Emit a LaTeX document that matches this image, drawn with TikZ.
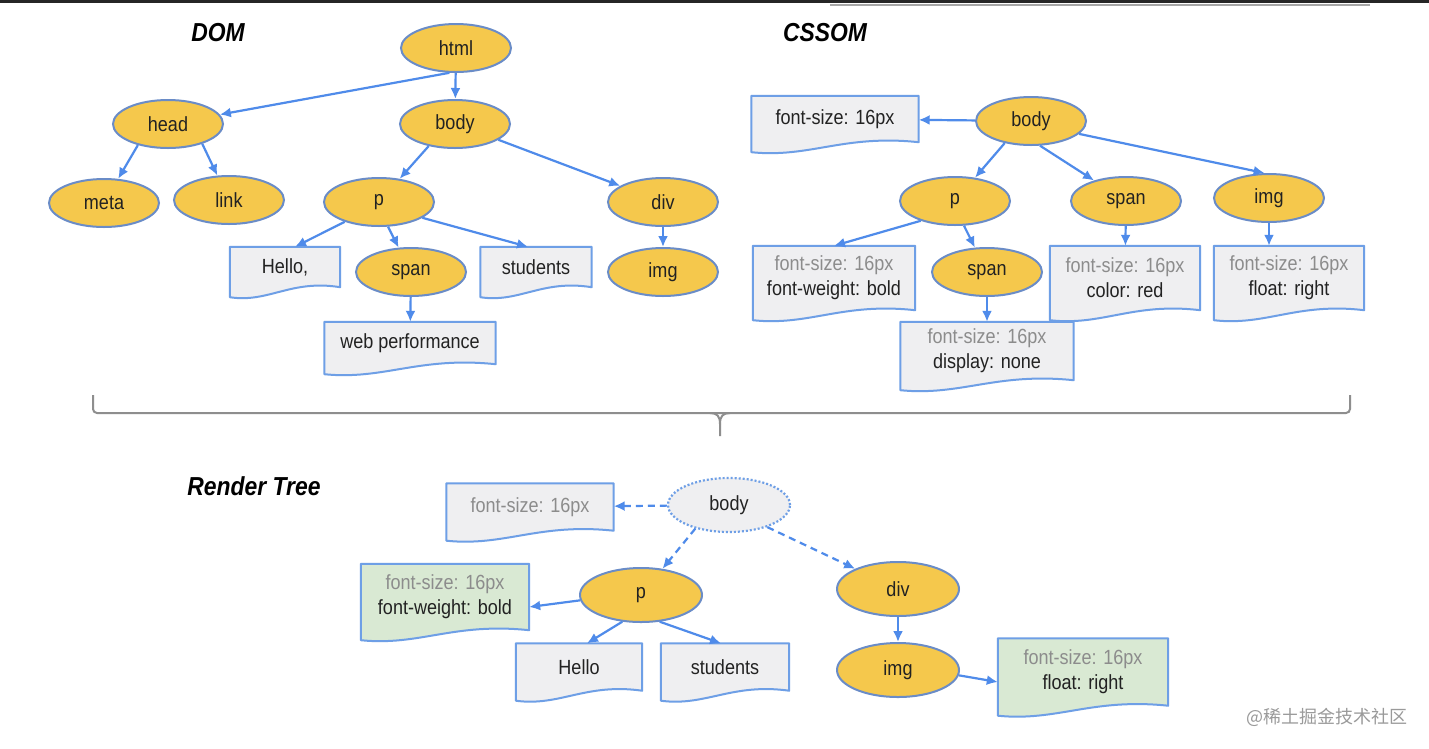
\documentclass[tikz,border=0pt]{standalone}
\usepackage{fontspec}
\setmainfont{Liberation Sans}[FakeStretch=0.88]
\newfontfamily\cjkfont{Noto Sans CJK SC}
\usetikzlibrary{shapes.geometric,arrows.meta,calc}
\pgfdeclarelayer{bottomlayer}
\pgfdeclarelayer{boxlayer}
\pgfsetlayers{bottomlayer,boxlayer,main}
\definecolor{ellfill}{HTML}{F5C84C}
\definecolor{elldraw}{HTML}{6A8CC7}
\definecolor{arrowc}{HTML}{4F8BEA}
\definecolor{boxdraw}{HTML}{6E9FE6}
\definecolor{boxfill}{HTML}{EFEFF1}
\definecolor{greenfill}{HTML}{D9E9D3}
\definecolor{txt}{HTML}{222222}
\definecolor{greytxt}{HTML}{8C8C8C}
\definecolor{bracec}{HTML}{8E8E8E}
\definecolor{wmc}{HTML}{9A9A9A}
\tikzset{
  ell/.style={ellipse, draw=elldraw, fill=ellfill, line width=2pt, minimum width=110pt, minimum height=48pt, inner sep=0pt, text=txt, font=\fontsize{20.5}{24}\selectfont},
  rell/.style={ell, minimum width=122pt, minimum height=54pt},
  dotell/.style={rell, fill=boxfill, draw=boxdraw, dotted, line width=2.2pt},
  docnode/.style={rectangle, inner sep=0pt, text=txt, align=center, font=\fontsize{20.5}{25}\selectfont},
  docline/.style={draw=boxdraw, line width=2pt, line join=round},
  arr/.style={draw=arrowc, line width=2.2pt, -{Latex[length=11pt,width=10pt]}},
  darr/.style={arr, dash pattern=on 7pt off 5pt},
  ttl/.style={font=\fontsize{26}{28}\selectfont\bfseries\itshape, text=black},
}
\newcommand\docshape[2]{%
  \path[docline, fill=#2] ($(#1.south west)+(0,10)$) -- (#1.north west) -- (#1.north east) -- (#1.south east)
   .. controls ($(#1.south west)!0.55!(#1.south east)+(0,-8)$) and ($(#1.south west)!0.35!(#1.south east)+(0,16)$) .. ($(#1.south west)+(0,10)$) -- cycle;}
\begin{document}
\begin{tikzpicture}[x=1pt,y=-1pt]
\begin{pgfonlayer}{bottomlayer}
\fill[white] (0,0) rectangle (1429,748);
\end{pgfonlayer}
\useasboundingbox (0,0) rectangle (1429,748);
% top edge
\fill[black!85] (0,0) rectangle (1429,3);
\draw[black!35, line width=1.5pt] (830,5) -- (1370,5);

% titles
\node[ttl] (domt) at (218,33) {DOM};
\node[ttl] (cssomt) at (825,33) {CSSOM};
\node[ttl] (rtt) at (254,486) {Render Tree};

% DOM
\node[ell] (html) at (456,48) {html};
\node[ell] (head) at (168,124) {head};
\node[ell] (body) at (455,124) {body};
\node[ell] (meta) at (104,203) {meta};
\node[ell] (link) at (229,200) {link};
\node[ell] (p) at (379,202) {p};
\node[ell] (div) at (663,202) {div};
\node[ell] (span) at (411,272) {span};
\node[ell] (img) at (663,272) {img};
\node[docnode, minimum width=110pt, minimum height=40pt] (hello) at (285,267) {Hello,};
\node[docnode, minimum width=111pt, minimum height=40pt] (stud) at (536,267) {students};
\node[docnode, minimum width=171pt, minimum height=42pt] (web) at (410,343) {web performance};

% CSSOM
\node[docnode, minimum width=167pt, minimum height=46pt] (cfs) at (835,119) {font-size: 16px};
\node[ell] (cbody) at (1031,121) {body};
\node[ell] (cp) at (955,201) {p};
\node[ell] (cspan) at (1126,201) {span};
\node[ell] (cimg) at (1269,198) {img};
\node[ell] (cspan2) at (987,272) {span};
\node[docnode, minimum width=162pt, minimum height=64pt] (cpbox) at (834,278) {\textcolor{greytxt}{font-size: 16px}\\font-weight: bold};
\node[docnode, minimum width=150pt, minimum height=64pt] (cspanbox) at (1125,278) {\textcolor{greytxt}{font-size: 16px}\\color: red};
\node[docnode, minimum width=150pt, minimum height=64pt] (cimgbox) at (1289,278) {\textcolor{greytxt}{font-size: 16px}\\float: right};
\node[docnode, minimum width=173pt, minimum height=58pt] (cdisp) at (987,351) {\textcolor{greytxt}{font-size: 16px}\\display: none};

% Render tree
\node[dotell] (rbody) at (729,505) {body};
\node[docnode, minimum width=167pt, minimum height=47pt] (rfs) at (530,507) {\textcolor{greytxt}{font-size: 16px}};
\node[rell] (rp) at (641,595) {p};
\node[rell] (rdiv) at (898,589) {div};
\node[rell] (rimg) at (898,670) {img};
\node[docnode, minimum width=168pt, minimum height=66pt] (g1) at (445,597) {\textcolor{greytxt}{font-size: 16px}\\font-weight: bold};
\node[docnode, minimum width=126pt, minimum height=47pt] (rhello) at (579,667) {Hello};
\node[docnode, minimum width=128pt, minimum height=47pt] (rstud) at (725,667) {students};
\node[docnode, minimum width=170pt, minimum height=67pt] (g2) at (1083,672) {\textcolor{greytxt}{font-size: 16px}\\float: right};

\node[anchor=east, text=wmc, font=\cjkfont\fontsize{18}{20}\selectfont, inner sep=0pt] (wm) at (1408,717) {@稀土掘金技术社区};

\begin{pgfonlayer}{boxlayer}
\docshape{hello}{boxfill}
\docshape{stud}{boxfill}
\docshape{web}{boxfill}
\docshape{cfs}{boxfill}
\docshape{cpbox}{boxfill}
\docshape{cspanbox}{boxfill}
\docshape{cimgbox}{boxfill}
\docshape{cdisp}{boxfill}
\docshape{rfs}{boxfill}
\docshape{g1}{greenfill}
\docshape{rhello}{boxfill}
\docshape{rstud}{boxfill}
\docshape{g2}{greenfill}
\end{pgfonlayer}

% DOM arrows
\draw[arr] (html) -- (body);
\draw[arr] (html.255) -- (head);
\draw[arr] (head.215) -- (meta);
\draw[arr] (head.330) -- (link);
\draw[arr] (body.220) -- (p);
\draw[arr] (body.340) -- (div);
\draw[arr] (p.210) -- ([xshift=10pt]hello.north);
\draw[arr] (p.290) -- (span);
\draw[arr] (p.340) -- ([xshift=-8pt]stud.north);
\draw[arr] (span) -- (web);
\draw[arr] (div) -- (img);

% CSSOM arrows
\draw[arr] (cbody) -- (cfs);
\draw[arr] (cbody.220) -- (cp);
\draw[arr] (cbody.290) -- (cspan);
\draw[arr] (cbody.345) -- (cimg.100);
\draw[arr] (cp.210) -- (cpbox.north);
\draw[arr] (cp.290) -- (cspan2);
\draw[arr] (cspan) -- (cspanbox);
\draw[arr] (cimg.south) -- (cimg.south |- cimgbox.north);
\draw[arr] (cspan2) -- (cdisp);

% brace
\draw[bracec, line width=2pt, rounded corners=4pt] (93,395) -- (93,413) -- (1350,413) -- (1350,395);
\draw[bracec, line width=2pt] (710,413) .. controls (717,413) and (720,416) .. (720,424) -- (720,436);
\draw[bracec, line width=2pt] (730,413) .. controls (723,413) and (720,416) .. (720,424);

% Render arrows
\draw[darr] (rbody) -- (rfs);
\draw[darr] (rbody.215) -- (rp);
\draw[darr] (rbody.330) -- (rdiv);
\draw[arr] (rp.185) -- ([yshift=-10pt]g1.east);
\draw[arr] (rp.235) -- ([xshift=8pt]rhello.north);
\draw[arr] (rp.305) -- ([xshift=-4pt]rstud.north);
\draw[arr] (rdiv) -- (rimg);
\draw[arr] (rimg.355) -- ([yshift=-10pt]g2.west);
\end{tikzpicture}
\end{document}
